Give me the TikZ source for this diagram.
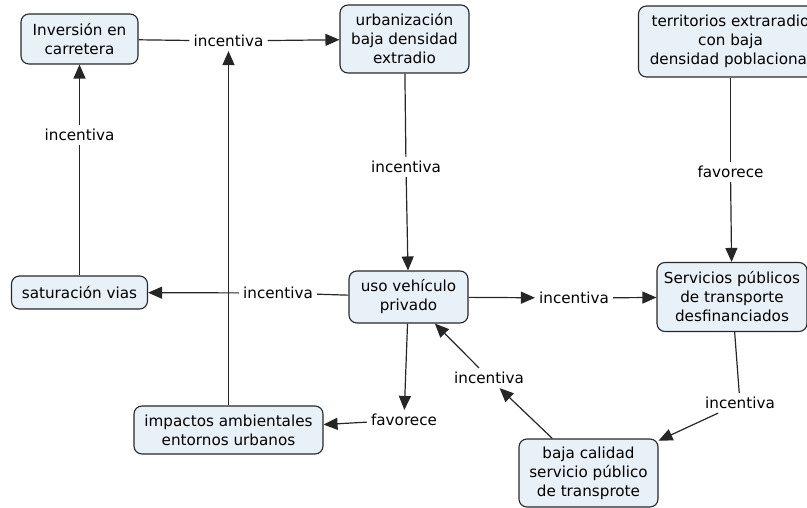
\documentclass[tikz,border=0pt]{standalone}
\usepackage{fontspec}
\setmainfont{DejaVu Sans}
\usetikzlibrary{arrows.meta}
\definecolor{boxfill}{RGB}{233,241,248}
\definecolor{boxline}{RGB}{40,40,40}
\begin{document}
\begin{tikzpicture}[x=1pt,y=-1pt,
  concept/.style={draw=boxline, fill=boxfill, line width=1.1pt, rounded corners=8pt,
    align=center, inner sep=2pt, font=\fontsize{15.2}{19}\selectfont},
  linkword/.style={inner sep=4pt, font=\fontsize{15.2}{19}\selectfont},
  conn/.style={draw=black!85, line width=1.2pt},
  arr/.style={conn, -{Triangle[length=14pt,width=12pt]}}]
\useasboundingbox (0,0) rectangle (807,508);
\begin{scope}
\clip (0,0) rectangle (807,508);
% concepts
\node[concept, minimum width=117, minimum height=50] (inv) at (79.5,39) {Inversión en\\carretera};
\node[concept, minimum width=129, minimum height=68] (urb) at (404.5,39) {urbanización\\baja densidad\\extradio};
\node[concept, minimum width=184, minimum height=71] (terr) at (730.5,41.5) {territorios extraradio\\con baja\\densidad poblacional};
\node[concept, minimum width=119, minimum height=52] (uso) at (408.5,297) {uso vehículo\\privado};
\node[concept, minimum width=136, minimum height=33] (sat) at (79.5,292.5) {saturación vias};
\node[concept, minimum width=150, minimum height=69] (serv) at (732,297) {Servicios públicos\\de transporte\\desfinanciados};
\node[concept, minimum width=189, minimum height=48] (imp) at (228.5,430) {impactos ambientales\\entornos urbanos};
\node[concept, minimum width=139, minimum height=68] (baja) at (588.5,473) {baja calidad\\servicio público\\de transprote};
% linking phrases
\node[linkword] (l1) at (228.5,41) {incentiva};
\node[linkword] (l2) at (79.5,135) {incentiva};
\node[linkword] (l3) at (406,167) {incentiva};
\node[linkword] (l4) at (730.5,172) {favorece};
\node[linkword] (l5) at (278,293) {incentiva};
\node[linkword] (l6) at (574,298) {incentiva};
\node[linkword] (l7) at (740,403) {incentiva};
\node[linkword] (l8) at (489,378) {incentiva};
\node[linkword] (l9) at (404,420) {favorece};
% connectors
\draw[conn] (inv) -- (l1);
\draw[arr] (l1) -- (urb);
\draw[arr] (imp) -- (l1);
\draw[conn] (sat) -- (l2);
\draw[arr] (l2) -- (inv);
\draw[conn] (urb) -- (l3);
\draw[arr] (l3) -- (uso);
\draw[conn] (terr) -- (l4);
\draw[arr] (l4) -- (serv);
\draw[conn] (uso) -- (l5);
\draw[arr] (l5) -- (sat);
\draw[arr] (uso) -- (l6);
\draw[arr] (l6) -- (serv);
\draw[conn] (serv) -- (l7);
\draw[arr] (l7) -- (baja);
\draw[arr] (baja) -- (l8);
\draw[arr] (l8) -- (uso);
\draw[arr] (uso) -- (l9);
\draw[arr] (l9) -- (imp);
\end{scope}
\end{tikzpicture}
\end{document}
